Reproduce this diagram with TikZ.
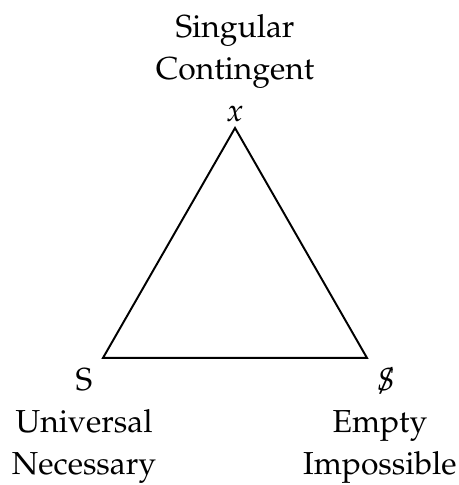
\documentclass[tikz,border=0pt]{standalone}
\usepackage{amsmath}
\usepackage[T1]{fontenc}
\usepackage{mathpazo}
\usepackage{tikz}
\usetikzlibrary{positioning}

\newcommand{\notS}{\ooalign{$S$\cr\hidewidth$/$\hidewidth\cr}}

\begin{document}
\begin{tikzpicture}[
        font=\fontsize{10.6}{14}\selectfont,
        lab/.style={align=center, inner sep=0pt}
      ]
      \useasboundingbox (0,0) rectangle (5.376,5.681);
      \coordinate (apx) at (2.753,4.182);
      \coordinate (bl)  at (1.206,1.488);
      \coordinate (br)  at (4.299,1.488);
      \draw[line width=0.65pt] (apx) -- (bl) -- (br) -- cycle;
      \node[lab, above=1.9pt of apx] (tlab) {Singular\\Contingent\\$x$};
      \node[lab, below=3.3pt of bl, xshift=-6.3pt] (llab) {S\\Universal\\Necessary};
      \node[lab, below=3.3pt of br, xshift=4.3pt] (rlab) {\hspace{4pt}\notS\\Empty\\Impossible};
    \end{tikzpicture}
\end{document}
